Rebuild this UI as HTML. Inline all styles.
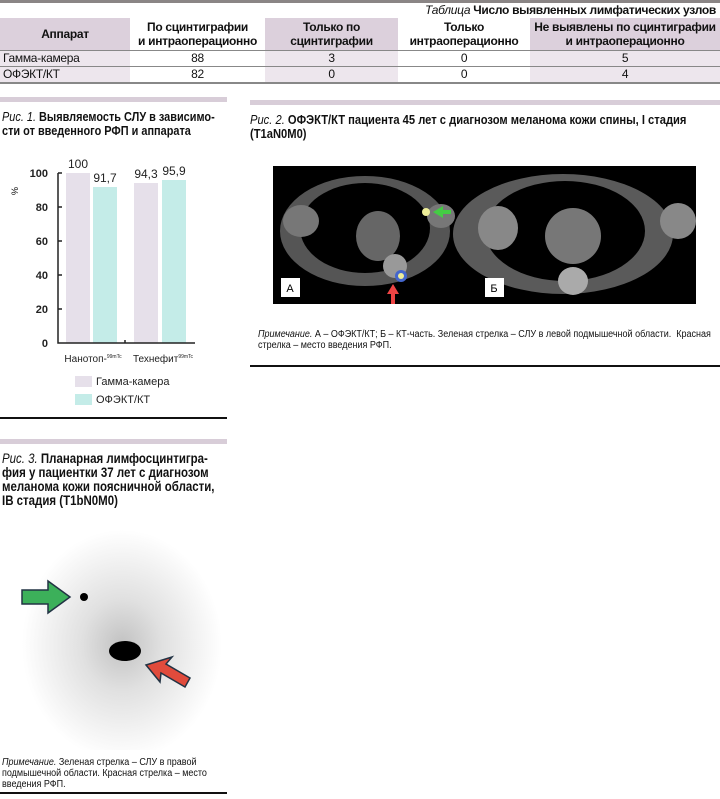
<!DOCTYPE html>
<html><head><meta charset="utf-8"><style>
body{margin:0;width:720px;height:799px;position:relative;background:#fff;font-family:"Liberation Sans","DejaVu Sans",sans-serif;color:#111;overflow:hidden}
.a{position:absolute}
table{border-collapse:collapse;position:absolute;left:0;top:18px;width:720px;font-family:"Liberation Sans",sans-serif;font-size:12px;letter-spacing:-0.3px}
td,th{padding:0;text-align:center;white-space:nowrap}
th{height:32px;font-weight:bold;line-height:14px}
td{height:15px;line-height:15px}
.p{background:#dcd0dc}.lp{background:#ede6ed}
.t{font-weight:bold;font-size:13px;line-height:14px;white-space:nowrap;transform:scaleX(0.82);transform-origin:0 0}
.t i{font-weight:normal}
.n{font-size:10px;line-height:11px;white-space:nowrap;transform:scaleX(0.85);transform-origin:0 0}
</style></head><body>
<div class="a" style="left:0;top:0;width:720px;height:3px;background:#8a8585"></div>
<div class="a" style="right:4px;top:3px;font-size:12px;font-weight:bold;letter-spacing:-0.3px"><i style="font-weight:normal">Таблица</i> Число выявленных лимфатических узлов</div>
<table>
<tr><th class="p" style="width:130px">Аппарат</th><th style="width:135px">По сцинтиграфии<br>и интраоперационно</th><th class="p" style="width:133px">Только по<br>сцинтиграфии</th><th style="width:132px">Только<br>интраоперационно</th><th class="p">Не выявлены по сцинтиграфии<br>и интраоперационно</th></tr>
<tr style="border-top:1px solid #888"><td class="lp" style="text-align:left;padding-left:3px">Гамма-камера</td><td>88</td><td class="lp">3</td><td>0</td><td class="lp">5</td></tr>
<tr style="border-top:1px solid #888;border-bottom:2px solid #888"><td class="lp" style="text-align:left;padding-left:3px">ОФЭКТ/КТ</td><td>82</td><td class="lp">0</td><td>0</td><td class="lp">4</td></tr>
</table>

<div class="a" style="left:0;top:97px;width:227px;height:5px;background:#d8cdd8"></div>
<div class="a t" style="left:2px;top:110px;transform:scaleX(0.84)"><i>Рис. 1.</i> Выявляемость СЛУ в зависимо-<br>сти от введенного РФП и аппарата</div>
<svg class="a" style="left:0;top:150px" width="240" height="260">
<g font-family="Liberation Sans" font-size="11" font-weight="bold" fill="#222" text-anchor="end">
<text x="48" y="27">100</text><text x="48" y="61">80</text><text x="48" y="95">60</text><text x="48" y="129">40</text><text x="48" y="163">20</text><text x="48" y="197">0</text></g>
<text x="18" y="45" font-size="9" font-family="Liberation Sans" transform="rotate(-90 18 45)">%</text>
<rect x="66" y="23" width="24" height="170" fill="#e6e0ea"/>
<rect x="93" y="37" width="24" height="156" fill="#c4ece8"/>
<rect x="134" y="33" width="24" height="160" fill="#e6e0ea"/>
<rect x="162" y="30" width="24" height="163" fill="#c4ece8"/>
<path d="M58 23V193H195M125 193v-3M58 23h4M58 57h4M58 91h4M58 125h4M58 159h4" stroke="#222" stroke-width="1.5" fill="none"/>
<g font-family="Liberation Sans" font-size="12" fill="#222" text-anchor="middle">
<text x="78" y="18">100</text><text x="105" y="32">91,7</text><text x="146" y="28">94,3</text><text x="174" y="25">95,9</text>
<text x="93" y="212" font-size="10">Нанотоп-<tspan font-size="5" dy="-4">99mTc</tspan></text>
<text x="163" y="212" font-size="10">Технефит<tspan font-size="5" dy="-4">99mTc</tspan></text>
<text x="96" y="235" text-anchor="start" font-size="11">Гамма-камера</text>
<text x="96" y="253" text-anchor="start" font-size="11">ОФЭКТ/КТ</text></g>
<rect x="75" y="226" width="17" height="11" fill="#e6e0ea"/><rect x="75" y="244" width="17" height="11" fill="#c4ece8"/>
</svg>
<div class="a" style="left:0;top:417px;width:227px;height:2px;background:#111"></div>

<div class="a" style="left:250px;top:100px;width:470px;height:5px;background:#d8cdd8"></div>
<div class="a t" style="left:250px;top:113px;transform:scaleX(0.86)"><i>Рис. 2.</i> ОФЭКТ/КТ пациента 45 лет с диагнозом меланома кожи спины, I стадия<br>(T1aN0M0)</div>
<svg class="a" style="left:273px;top:166px" width="423" height="138">
<rect width="423" height="138" fill="#000"/>
<ellipse cx="92" cy="65" rx="85" ry="55" fill="#555"/><ellipse cx="92" cy="62" rx="65" ry="45" fill="#000"/>
<ellipse cx="105" cy="70" rx="22" ry="25" fill="#666"/><ellipse cx="28" cy="55" rx="18" ry="16" fill="#777"/><ellipse cx="168" cy="50" rx="14" ry="12" fill="#777"/>
<ellipse cx="122" cy="100" rx="12" ry="12" fill="#999"/><circle cx="128" cy="110" r="6" fill="#4466cc"/><circle cx="128" cy="110" r="3" fill="#ee9"/><circle cx="153" cy="46" r="4" fill="#ee9"/>
<path d="M160 46l10-6v4h8v4h-8v4z" fill="#4c4"/><path d="M120 118l6 10h-4v10h-4v-10h-4z" fill="#e44"/>
<ellipse cx="290" cy="68" rx="110" ry="60" fill="#5a5a5a"/><ellipse cx="292" cy="65" rx="80" ry="50" fill="#000"/>
<ellipse cx="300" cy="70" rx="28" ry="28" fill="#777"/><ellipse cx="225" cy="62" rx="20" ry="22" fill="#888"/><ellipse cx="405" cy="55" rx="18" ry="18" fill="#888"/>
<ellipse cx="300" cy="115" rx="15" ry="14" fill="#aaa"/>
<rect x="8" y="112" width="19" height="19" fill="#fff"/><text x="17" y="126" font-size="11" text-anchor="middle" font-family="Liberation Sans">А</text>
<rect x="212" y="112" width="19" height="19" fill="#fff"/><text x="221" y="126" font-size="11" text-anchor="middle" font-family="Liberation Sans">Б</text>
</svg>
<div class="a n" style="left:258px;top:329px;transform:scaleX(0.9)"><i>Примечание.</i> А – ОФЭКТ/КТ; Б – КТ-часть. Зеленая стрелка – СЛУ в левой подмышечной области.&nbsp; Красная<br>стрелка – место введения РФП.</div>
<div class="a" style="left:250px;top:365px;width:470px;height:2px;background:#111"></div>

<div class="a" style="left:0;top:439px;width:227px;height:5px;background:#d8cdd8"></div>
<div class="a t" style="left:2px;top:452px;font-size:13.5px;transform:scaleX(0.85)"><i>Рис. 3.</i> Планарная лимфосцинтигра-<br>фия у пациентки 37 лет с диагнозом<br>меланома кожи поясничной области,<br>IB стадия (T1bN0M0)</div>
<svg class="a" style="left:0;top:510px" width="230" height="240">
<defs><radialGradient id="g"><stop offset="0" stop-color="#777"/><stop offset="0.4" stop-color="#bbb"/><stop offset="1" stop-color="#fff"/></radialGradient></defs>
<ellipse cx="122" cy="135" rx="100" ry="115" fill="url(#g)" opacity="0.45"/>
<ellipse cx="125" cy="141" rx="16" ry="10" fill="#000"/><circle cx="84" cy="87" r="4" fill="#000"/>
<path d="M22 80h26v-9l22 16-22 16v-9h-26z" fill="#3cb05a" stroke="#234" stroke-width="1.5"/>
<path d="M146 155l26-8-6 7 24 14-5 9-24-14-1 9z" fill="#e04b3c" stroke="#234" stroke-width="1.5"/>
</svg>
<div class="a n" style="left:2px;top:757px;transform:scaleX(0.9)"><i>Примечание.</i> Зеленая стрелка – СЛУ в правой<br>подмышечной области. Красная стрелка – место<br>введения РФП.</div>
<div class="a" style="left:0;top:792px;width:227px;height:2px;background:#111"></div>
</body></html>
